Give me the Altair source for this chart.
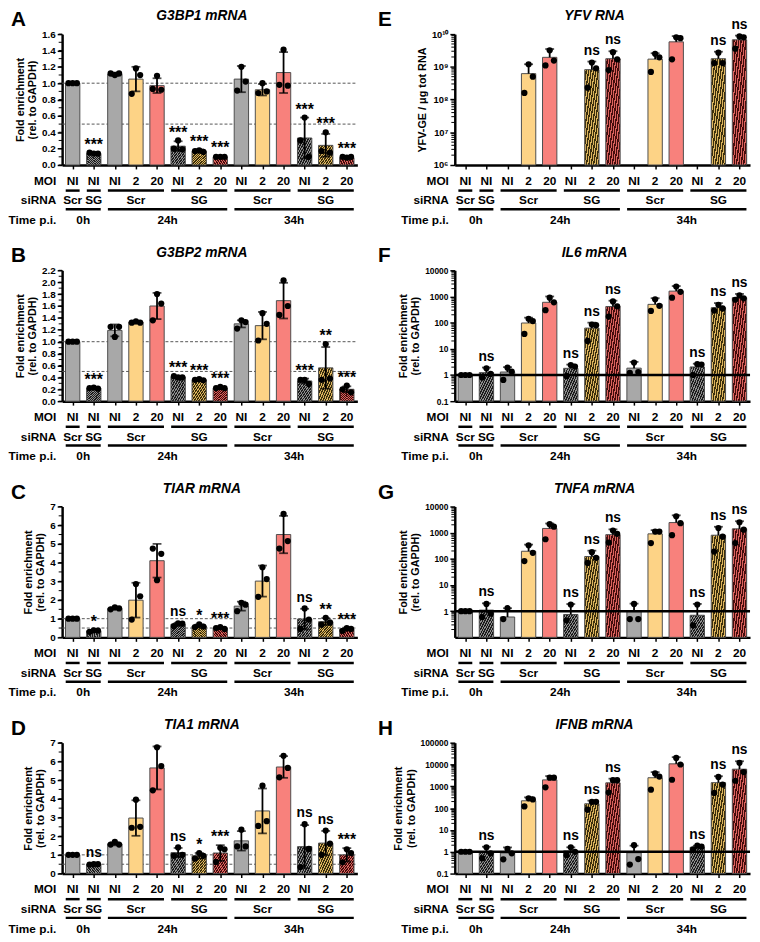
import altair as alt
import pandas as pd

FONT = "Liberation Sans"
W, H = 300, 133

# ---------------- structure of the x axis ----------------
MOI = ["NI", "NI", "NI", "2", "20", "NI", "2", "20", "NI", "2", "20", "NI", "2", "20"]
SIRNA = ["Scr", "SG", "Scr", "Scr", "Scr", "SG", "SG", "SG", "Scr", "Scr", "Scr", "SG", "SG", "SG"]
TONE = ["gray", "gray", "gray", "yellow", "red", "gray", "yellow", "red",
        "gray", "yellow", "red", "gray", "yellow", "red"]
SIRNA_GROUPS = [(0, 0, "Scr"), (1, 1, "SG"), (2, 4, "Scr"), (5, 7, "SG"), (8, 10, "Scr"), (11, 13, "SG")]
TIME_GROUPS = [(0, 1, "0h"), (2, 7, "24h"), (8, 13, "34h")]

FILL = {"gray": "#a8a8a8", "yellow": "#fdd386", "red": "#f8817c"}
HATCH_BASE = {"gray": "#8e8e8e", "yellow": "#dcb45e", "red": "#da625d"}
DARK = {"gray": "#1c1c1c", "yellow": "#3a2e0c", "red": "#430c0c"}

# ---------------- panel A: G3BP1 ----------------
A_mean = [1.0, 0.14, 1.11, 1.05, 0.97, 0.23, 0.17, 0.10, 1.05, 0.92, 1.13, 0.33, 0.24, 0.09]
A_sd = [0.005, 0.01, 0.02, 0.15, 0.09, 0.06, 0.02, 0.01, 0.16, 0.07, 0.25, 0.25, 0.14, 0.01]
A_p1 = [1.0, 0.15, 1.12, 0.87, 0.93, 0.20, 0.17, 0.10, 0.91, 0.88, 0.98, 0.30, 0.17, 0.10]
A_p2 = [1.0, 0.14, 1.10, 1.18, 1.09, 0.30, 0.18, 0.10, 1.20, 1.00, 1.41, 0.58, 0.40, 0.09]
A_p3 = [1.0, 0.14, 1.12, 1.10, 0.92, 0.19, 0.16, 0.10, 1.02, 0.90, 0.97, 0.10, 0.15, 0.10]
A_sig = ["", "***", "", "", "", "***", "***", "***", "", "", "", "***", "***", "***"]

# ---------------- panel B: G3BP2 ----------------
B_mean = [1.0, 0.22, 1.19, 1.33, 1.60, 0.41, 0.36, 0.22, 1.30, 1.27, 1.69, 0.34, 0.56, 0.20]
B_sd = [0.005, 0.01, 0.10, 0.02, 0.22, 0.01, 0.01, 0.02, 0.06, 0.23, 0.30, 0.04, 0.35, 0.05]
B_p1 = [1.0, 0.22, 1.25, 1.32, 1.36, 0.42, 0.36, 0.22, 1.22, 1.02, 1.45, 0.36, 0.36, 0.20]
B_p2 = [1.0, 0.23, 1.08, 1.34, 1.80, 0.40, 0.37, 0.24, 1.36, 1.48, 2.03, 0.36, 0.96, 0.26]
B_p3 = [1.0, 0.21, 1.25, 1.32, 1.64, 0.40, 0.35, 0.22, 1.33, 1.30, 1.60, 0.29, 0.38, 0.15]
B_sig = ["", "***", "", "", "", "***", "***", "***", "", "", "", "***", "**", "***"]

# ---------------- panel C: TIAR ----------------
C_mean = [1.0, 0.35, 1.55, 1.99, 4.10, 0.70, 0.61, 0.50, 1.67, 3.01, 5.50, 0.98, 0.84, 0.44]
C_sd = [0.01, 0.05, 0.05, 0.93, 0.90, 0.08, 0.08, 0.05, 0.24, 0.83, 1.00, 0.55, 0.19, 0.08]
C_p1 = [1.0, 0.30, 1.50, 0.95, 4.75, 0.60, 0.55, 0.50, 1.40, 2.17, 4.75, 0.45, 0.68, 0.35]
C_p2 = [1.0, 0.38, 1.60, 2.85, 3.06, 0.75, 0.70, 0.55, 1.85, 3.75, 6.60, 1.55, 1.05, 0.50]
C_p3 = [1.0, 0.36, 1.55, 2.20, 4.47, 0.73, 0.58, 0.45, 1.75, 3.12, 5.15, 0.95, 0.80, 0.45]
C_sig = ["", "*", "", "", "", "ns", "*", "***", "", "", "", "ns", "**", "***"]

# ---------------- panel D: TIA1 ----------------
D_mean = [1.0, 0.49, 1.59, 2.97, 5.65, 1.12, 0.95, 1.10, 1.75, 3.35, 5.70, 1.44, 1.63, 1.00]
D_sd = [0.01, 0.02, 0.08, 0.95, 1.15, 0.25, 0.15, 0.42, 0.52, 1.20, 0.58, 1.15, 0.65, 0.36]
D_p1 = [1.0, 0.48, 1.55, 2.45, 4.45, 0.95, 0.80, 0.62, 1.45, 2.55, 5.15, 0.35, 1.00, 0.60]
D_p2 = [1.0, 0.50, 1.70, 3.95, 6.75, 1.40, 1.10, 1.38, 2.35, 4.70, 6.30, 2.64, 2.30, 1.30]
D_p3 = [1.0, 0.50, 1.55, 2.50, 5.75, 1.00, 0.95, 1.30, 1.45, 2.80, 5.65, 1.32, 1.60, 1.10]
D_sig = ["", "ns", "", "", "", "ns", "*", "***", "", "", "", "ns", "ns", "***"]

# ---------------- panel E: YFV RNA ----------------
E_mean = [None, None, None, 6.2e8, 1.95e9, None, 8.2e8, 1.77e9, None, 1.72e9, 5.8e9, None, 1.77e9, 6.7e9]
E_sd = [None, None, None, 5.8e8, 1.55e9, None, 6.3e8, 1.23e9, None, 8.8e8, 2.9e9, None, 1.13e9, 2.3e9]
E_p1 = [None, None, None, 1.6e8, 1.1e9, None, 2.3e8, 8.0e8, None, 7.0e8, 1.7e9, None, 1.3e9, 3.6e9]
E_p2 = [None, None, None, 1.2e9, 3.2e9, None, 1.35e9, 2.8e9, None, 2.5e9, 8.0e9, None, 2.7e9, 8.5e9]
E_p3 = [None, None, None, 5.0e8, 1.55e9, None, 9.0e8, 1.7e9, None, 1.95e9, 7.5e9, None, 1.3e9, 8.0e9]
E_sig = ["", "", "", "", "", "", "ns", "ns", "", "", "", "", "ns", "ns"]

# ---------------- panel F: IL6 ----------------
F_mean = [1.0, 1.23, 1.30, 97, 600, 1.80, 62, 413, 1.83, 500, 1600, 2.03, 373, 900]
F_sd = [0.01, 0.7, 0.7, 58, 400, 0.7, 38, 277, 1.35, 360, 900, 0.67, 187, 350]
F_p1 = [1.0, 0.8, 0.65, 37, 300, 0.9, 20, 170, 1.2, 280, 900, 1.0, 290, 750]
F_p2 = [1.0, 1.8, 1.9, 140, 900, 2.4, 85, 650, 3.0, 780, 2400, 2.6, 480, 1100]
F_p3 = [1.0, 1.1, 1.35, 115, 600, 2.1, 80, 420, 1.3, 440, 1500, 2.5, 350, 850]
F_sig = ["", "ns", "", "", "", "ns", "ns", "ns", "", "", "", "ns", "ns", "ns"]

# ---------------- panel G: TNFA ----------------
G_mean = [1.0, 1.1, 0.6, 195, 1450, 0.75, 123, 840, 0.97, 900, 2430, 0.70, 800, 1400]
G_sd = [0.01, 0.9, 0.7, 155, 790, 1.13, 82, 500, 0.98, 350, 2170, 1.2, 880, 1340]
G_p1 = [1.0, 0.6, 0.5, 82, 560, 0.45, 70, 420, 0.5, 400, 800, 0.29, 190, 400]
G_p2 = [1.0, 1.9, 1.3, 330, 2100, 1.8, 180, 1200, 1.9, 1100, 4200, 1.8, 1500, 2500]
G_p3 = [1.0, 0.8, None, 170, 1700, None, 110, 900, 0.5, 1100, 2300, None, 700, 1300]
G_sig = ["", "ns", "", "", "", "ns", "ns", "ns", "", "", "", "ns", "ns", "ns"]

# ---------------- panel H: IFNB ----------------
H_mean = [1.0, 0.98, 0.88, 217, 1970, 1.1, 158, 1440, 0.9, 2470, 10700, 1.6, 1470, 6100]
H_sd = [0.01, 0.72, 0.7, 95, 980, 0.5, 63, 797, 1.0, 2000, 11000, 0.3, 1430, 8000]
H_p1 = [1.0, 0.5, 0.45, 120, 900, 0.7, 85, 520, 0.26, 700, 2000, 1.3, 500, 1800]
H_p2 = [1.0, 1.6, 1.35, 280, 2500, 1.6, 195, 1900, 2.0, 3900, 20000, 1.9, 2700, 12000]
H_p3 = [1.0, 0.85, 0.85, 250, 2500, 1.0, 195, 1900, 0.46, 2800, 10000, 1.7, 1200, 4500]
H_sig = ["", "ns", "", "", "", "ns", "ns", "ns", "", "", "", "ns", "ns", "ns"]

FOLD = ["Fold enrichment", "(rel. to GAPDH)"]

XS = alt.Scale(domain=[-0.5, 13.5], nice=False, zero=False)


def stripes(base, dark, n=12, frac=0.55):
    stops = []
    for k in range(n):
        a = k / n
        b = (k + 1 - frac) / n
        c = (k + 1) / n
        stops += [
            alt.GradientStop(color=base, offset=a),
            alt.GradientStop(color=base, offset=b),
            alt.GradientStop(color=dark, offset=b),
            alt.GradientStop(color=dark, offset=c),
        ]
    return alt.LinearGradient(gradient="linear", stops=stops, x1=0, y1=0, x2=1, y2=1)


def lin_ticks(lo, hi, step):
    n = int(round((hi - lo) / step))
    return [round(lo + k * step, 6) for k in range(n + 1)]


def log_minor(e0, e1):
    return [m * 10.0 ** e for e in range(e0, e1) for m in range(2, 10)]


def txt(text, x, y, size=12, align="center", baseline="middle", style="normal", weight="bold"):
    return alt.Chart(pd.DataFrame({"t": [text]})).mark_text(
        font=FONT, fontSize=size, fontWeight=weight, fontStyle=style,
        align=align, baseline=baseline, color="black"
    ).encode(x=alt.value(x), y=alt.value(y), text="t:N")


def panel(letter, title, ytitle, mean, sd, p1, p2, p3, sig, log, domain, major,
          minor, fmt=None, label_expr=None, refs=(), ref_solid=False, letter_x=-52,
          label_size=10):
    rows = []
    for i in range(14):
        if mean[i] is None:
            continue
        m, s = mean[i], sd[i]
        hi = m + s
        lo = m if log else m - s
        pts = [v for v in (p1[i], p2[i], p3[i]) if v is not None]
        rows.append(dict(pos=i, mean=m, lo=lo, hi=hi, tone=TONE[i],
                         hatch=SIRNA[i] == "SG", sig=sig[i], top=max([hi] + pts)))
    bars = pd.DataFrame(rows)
    prow = []
    for i in range(14):
        for r, arr in enumerate((p1, p2, p3)):
            if arr[i] is not None:
                prow.append(dict(pos=i, rep=r, v=arr[i]))
    pts = pd.DataFrame(prow)

    if log:
        ys = alt.Scale(type="log", domain=domain, nice=False)
    else:
        ys = alt.Scale(domain=domain, nice=False, zero=True)

    axis_kw = dict(values=major, title=ytitle, grid=False, domainColor="black",
                   domainWidth=2.5, tickColor="black", tickWidth=1.5, tickSize=5,
                   labelFont=FONT, labelFontWeight="bold", labelFontSize=label_size,
                   labelColor="black", labelPadding=2, titleFont=FONT,
                   titleFontWeight="bold", titleFontSize=11, titleColor="black",
                   titlePadding=4, titleLineHeight=12.5)
    if fmt:
        axis_kw["format"] = fmt
    if label_expr:
        axis_kw["labelExpr"] = label_expr
    yaxis = alt.Axis(**axis_kw)
    xaxis = alt.Axis(values=list(range(14)), labels=False, title=None, ticks=True,
                     tickSize=4, tickColor="black", tickWidth=1.5, domainColor="black",
                     domainWidth=2.5, grid=False)

    def X(f):
        return alt.X(f, scale=XS, axis=xaxis)

    def Y(f):
        return alt.Y(f, scale=ys, axis=yaxis)

    base = alt.Chart(bars).transform_calculate(
        x0="datum.pos - 0.34", x1="datum.pos + 0.34")
    layers = []

    # dashed reference lines (behind the bars)
    if refs and not ref_solid:
        layers.append(alt.Chart(pd.DataFrame({"r": list(refs)})).transform_calculate(
            a="-0.5", b="13.5").mark_rule(
            color="#555555", strokeDash=[3, 2], strokeWidth=1
        ).encode(y=Y("r:Q"), x=X("a:Q"), x2="b:Q"))

    bar_y2 = alt.datum(domain[0])
    layers.append(base.mark_bar(stroke="#4d4d4d", strokeWidth=1).encode(
        x=X("x0:Q"), x2="x1:Q", y=Y("mean:Q"), y2=bar_y2,
        fill=alt.Fill("tone:N", scale=alt.Scale(domain=list(FILL), range=list(FILL.values())),
                      legend=None),
    ).transform_filter("!datum.hatch"))
    for tone in FILL:
        layers.append(base.mark_bar(stroke="#4d4d4d", strokeWidth=1,
                                    fill=stripes(HATCH_BASE[tone], DARK[tone])).encode(
            x=X("x0:Q"), x2="x1:Q", y=Y("mean:Q"), y2=bar_y2
        ).transform_filter(f"datum.hatch && datum.tone == '{tone}'"))

    # error bars
    layers.append(alt.Chart(bars).mark_rule(color="black", strokeWidth=1.8).encode(
        x=X("pos:Q"), y=Y("lo:Q"), y2="hi:Q"))
    layers.append(alt.Chart(bars).mark_tick(color="black", orient="horizontal", size=9,
                                            thickness=1.8).encode(x=X("pos:Q"), y=Y("hi:Q")))
    if not log:
        layers.append(alt.Chart(bars).mark_tick(color="black", orient="horizontal", size=9,
                                                thickness=1.8).encode(x=X("pos:Q"), y=Y("lo:Q")))

    # replicate points
    layers.append(alt.Chart(pts).transform_calculate(
        px="datum.pos + (datum.rep - 1) * 0.2"
    ).mark_circle(color="black", opacity=1, size=40).encode(x=X("px:Q"), y=Y("v:Q")))

    if refs and ref_solid:
        layers.append(alt.Chart(pd.DataFrame({"r": list(refs)})).transform_calculate(
            a="-0.5", b="13.5").mark_rule(color="black", strokeWidth=2.5
        ).encode(y=Y("r:Q"), x=X("a:Q"), x2="b:Q"))

    # minor ticks on the y axis
    layers.append(alt.Chart(pd.DataFrame({"m": minor})).mark_rule(
        color="black", strokeWidth=1).encode(
        y=Y("m:Q"), x=alt.value(-3.5), x2=alt.value(0)))

    # significance
    layers.append(alt.Chart(bars).mark_text(
        font=FONT, fontSize=16, fontWeight="bold", baseline="alphabetic", dy=-3, color="black"
    ).encode(x=X("pos:Q"), y=Y("top:Q"), text="sig:N"
             ).transform_filter("indexof(datum.sig, '*') >= 0"))
    layers.append(alt.Chart(bars).mark_text(
        font=FONT, fontSize=14, fontWeight="bold", baseline="alphabetic", dy=-7, color="black"
    ).encode(x=X("pos:Q"), y=Y("top:Q"), text="sig:N"
             ).transform_filter("datum.sig == 'ns'"))

    # category rows below the axis
    moi_df = pd.DataFrame({"pos": list(range(14)), "t": MOI})
    layers.append(alt.Chart(moi_df).mark_text(
        font=FONT, fontSize=12, fontWeight="bold", baseline="middle", color="black"
    ).encode(x=X("pos:Q"), y=alt.value(H + 16), text="t:N"))

    g1 = pd.DataFrame(SIRNA_GROUPS, columns=["s", "e", "t"])
    g2 = pd.DataFrame(TIME_GROUPS, columns=["s", "e", "t"])
    for df, yline, ytext in ((g1, H + 26, H + 36), (g2, H + 45, H + 56)):
        gb = alt.Chart(df).transform_calculate(
            a="datum.s - 0.33", b="datum.e + 0.33", mid="(datum.s + datum.e) / 2")
        layers.append(gb.mark_rule(color="black", strokeWidth=2.5).encode(
            x=X("a:Q"), x2="b:Q", y=alt.value(yline)))
        layers.append(gb.mark_text(
            font=FONT, fontSize=12, fontWeight="bold", baseline="middle", color="black"
        ).encode(x=X("mid:Q"), y=alt.value(ytext), text="t:N"))

    layers.append(txt("MOI", -6, H + 16, align="right"))
    layers.append(txt("siRNA", -6, H + 36, align="right"))
    layers.append(txt("Time p.i.", -6, H + 56, align="right"))

    layers.append(txt(letter, letter_x, -25, size=21, align="left", baseline="top"))
    layers.append(txt(title, 142, -18, size=14, style="italic"))

    return alt.layer(*layers).properties(width=W, height=H)


lin_fmt = ".1f"
pA = panel("A", "G3BP1 mRNA", FOLD, A_mean, A_sd, A_p1, A_p2, A_p3, A_sig, False, [0, 1.6],
           lin_ticks(0, 1.6, 0.2), lin_ticks(0, 1.6, 0.1), fmt=lin_fmt, refs=(1.0, 0.5))
pB = panel("B", "G3BP2 mRNA", FOLD, B_mean, B_sd, B_p1, B_p2, B_p3, B_sig, False, [0, 2.2],
           lin_ticks(0, 2.2, 0.2), lin_ticks(0, 2.2, 0.1), fmt=lin_fmt, refs=(1.0, 0.5))
pC = panel("C", "TIAR mRNA", FOLD, C_mean, C_sd, C_p1, C_p2, C_p3, C_sig, False, [0, 7],
           lin_ticks(0, 7, 1), lin_ticks(0, 7, 0.5), fmt="d", refs=(1.0, 0.5))
pD = panel("D", "TIA1 mRNA", FOLD, D_mean, D_sd, D_p1, D_p2, D_p3, D_sig, False, [0, 7],
           lin_ticks(0, 7, 1), lin_ticks(0, 7, 0.5), fmt="d", refs=(1.0, 0.5))

e_expr = ("datum.value >= 1e10 ? '10¹⁰' : datum.value >= 1e9 ? '10⁹' : "
          "datum.value >= 1e8 ? '10⁸' : datum.value >= 1e7 ? '10⁷' : '10⁶'")
pE = panel("E", "YFV RNA", "YFV-GE / μg tot RNA", E_mean, E_sd, E_p1, E_p2, E_p3, E_sig, True,
           [1e6, 1e10], [1e6, 1e7, 1e8, 1e9, 1e10], log_minor(6, 10), label_expr=e_expr,
           letter_x=-78, label_size=9.5)
pF = panel("F", "IL6 mRNA", FOLD, F_mean, F_sd, F_p1, F_p2, F_p3, F_sig, True, [0.1, 1e4],
           [0.1, 1, 10, 100, 1000, 10000], log_minor(-1, 4), fmt="~g", refs=(1.0,),
           ref_solid=True, letter_x=-78, label_size=8.5)
pG = panel("G", "TNFA mRNA", FOLD, G_mean, G_sd, G_p1, G_p2, G_p3, G_sig, True, [0.1, 1e4],
           [1, 10, 100, 1000, 10000], log_minor(-1, 4), fmt="~g", refs=(1.0,),
           ref_solid=True, letter_x=-78, label_size=8.5)
pH = panel("H", "IFNB mRNA", FOLD, H_mean, H_sd, H_p1, H_p2, H_p3, H_sig, True, [0.1, 1e5],
           [0.1, 1, 10, 100, 1000, 10000, 100000], log_minor(-1, 5), fmt="~g", refs=(1.0,),
           ref_solid=True, letter_x=-78, label_size=8.5)

rows = [alt.hconcat(l, r, spacing=20) for l, r in ((pA, pE), (pB, pF), (pC, pG), (pD, pH))]
chart = alt.vconcat(*rows, spacing=20).configure(
    font=FONT, padding={"top": -6, "left": 0, "right": 0, "bottom": 0}
).configure_view(stroke=None)

chart.save("out.html", embed_options={"renderer": "svg", "actions": False})
